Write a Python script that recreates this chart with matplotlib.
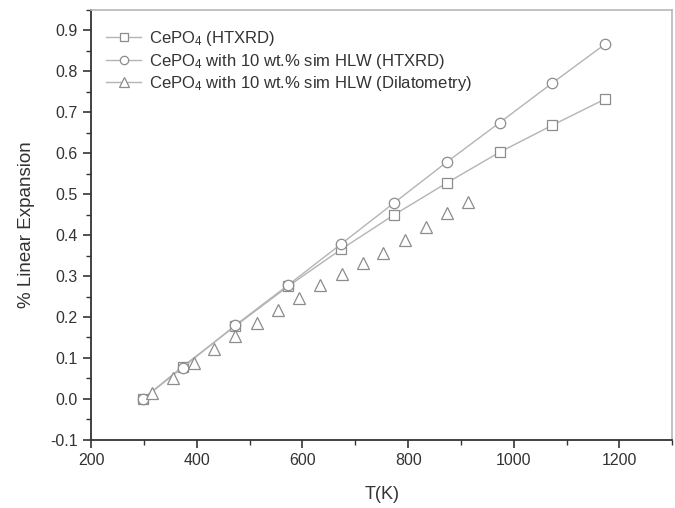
import matplotlib
matplotlib.use("Agg")
import matplotlib.pyplot as plt
from matplotlib.lines import Line2D
from matplotlib.ticker import MultipleLocator

plt.rcParams['font.family'] = ['Liberation Sans', 'DejaVu Sans']
plt.rcParams['mathtext.fontset'] = 'custom'
plt.rcParams['mathtext.rm'] = 'Liberation Sans'
plt.rcParams['mathtext.it'] = 'Liberation Sans'

# Datos
t_htxrd = [298, 373, 473, 573, 673, 773, 873, 973, 1073, 1173]
cepo4_htxrd = [0.0, 0.079, 0.178, 0.275, 0.365, 0.449, 0.527, 0.602, 0.668, 0.732]
hlw_htxrd = [0.0, 0.076, 0.180, 0.278, 0.378, 0.478, 0.578, 0.674, 0.771, 0.866]

t_dil = [316, 355, 394, 433, 473, 514, 554, 594, 634, 674, 714, 753, 794, 834, 874, 914]
hlw_dil = [0.015, 0.052, 0.087, 0.121, 0.154, 0.186, 0.217, 0.247, 0.278, 0.305,
           0.331, 0.357, 0.388, 0.420, 0.453, 0.480]

labels = [r'CePO$_4$ (HTXRD)',
          r'CePO$_4$ with 10 wt.% sim HLW (HTXRD)',
          r'CePO$_4$ with 10 wt.% sim HLW (Dilatometry)']

line_col = '#b4b4b4'
mark_col = '#8c8c8c'

fig = plt.figure(figsize=(6.75, 5.08), dpi=100)
ax = fig.add_axes([0.135, 0.134, 0.861, 0.847])

ax.plot(t_htxrd, cepo4_htxrd, '-', color=line_col, lw=1.0, marker='s', ms=6.5,
        mfc='white', mec=mark_col, mew=0.9)
ax.plot(t_htxrd, hlw_htxrd, '-', color=line_col, lw=1.0, marker='o', ms=7.5,
        mfc='white', mec=mark_col, mew=0.9)
ax.plot(t_dil, hlw_dil, linestyle='none', marker='^', ms=8.5,
        mfc='white', mec=mark_col, mew=0.9)

# Leyenda estilo Origin (linea + marcador)
handles = [
    Line2D([], [], color=line_col, lw=1.0, marker='s', ms=6, mfc='white', mec=mark_col, mew=0.9),
    Line2D([], [], color=line_col, lw=1.0, marker='o', ms=6, mfc='white', mec=mark_col, mew=0.9),
    Line2D([], [], color=line_col, lw=1.0, marker='^', ms=7, mfc='white', mec=mark_col, mew=0.9),
]
ax.legend(handles, labels, loc='upper left', frameon=False, fontsize=12,
          handlelength=2.1, handletextpad=0.5, labelspacing=0.22,
          bbox_to_anchor=(0.0, 0.99), labelcolor='#333333')

ax.set_xlim(200, 1300)
ax.set_ylim(-0.1, 0.95)
ax.xaxis.set_major_locator(MultipleLocator(200))
ax.xaxis.set_minor_locator(MultipleLocator(100))
ax.yaxis.set_major_locator(MultipleLocator(0.1))
ax.yaxis.set_minor_locator(MultipleLocator(0.05))
ax.set_yticks([-0.1, 0.0, 0.1, 0.2, 0.3, 0.4, 0.5, 0.6, 0.7, 0.8, 0.9])
ax.set_yticklabels(['-0.1', '0.0', '0.1', '0.2', '0.3', '0.4', '0.5', '0.6', '0.7', '0.8', '0.9'])

ax.tick_params(which='major', direction='out', length=6, width=1.2,
               labelsize=11.5, labelcolor='#333333', color='#333333')
ax.tick_params(which='minor', direction='out', length=3.5, width=1.0, color='#333333')
ax.tick_params(top=False, right=False, which='both')

for s in ['left', 'bottom']:
    ax.spines[s].set_color('#333333')
    ax.spines[s].set_linewidth(1.3)
for s in ['top', 'right']:
    ax.spines[s].set_color('#b8b8b8')
    ax.spines[s].set_linewidth(1.2)

ax.set_xlabel('T(K)', fontsize=13, color='#333333', labelpad=13)
ax.set_ylabel('% Linear Expansion', fontsize=13.5, color='#333333', labelpad=11)

fig.savefig('out.png', dpi=100)
